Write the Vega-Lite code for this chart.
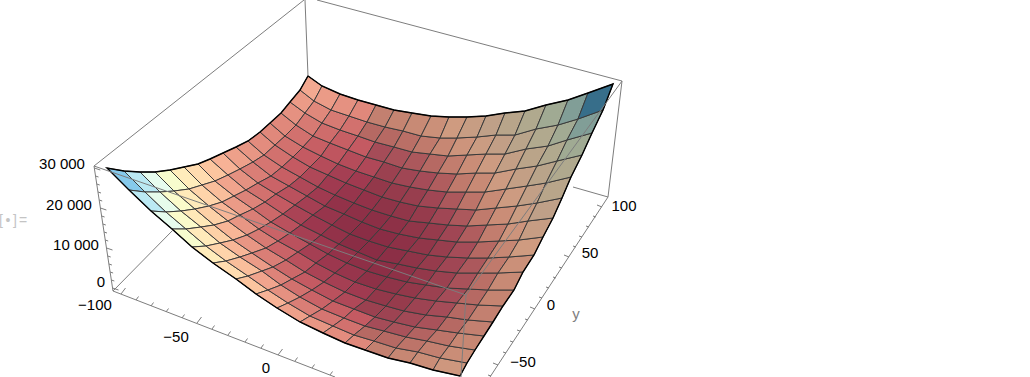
{"$schema":"https://vega.github.io/schema/vega-lite/v6.json","width":1030,"height":377,"padding":0,"autosize":"none","background":"white","config":{"view":{"stroke":null}},
"layer":[
{"data":{"values":[
{"k":0,"s":0.88,"x":[107,129,145,124],"y":[168,190,192,171]},{"k":1,"s":0.77,"x":[129,151,166,145],"y":[190,211,212,192]},{"k":2,"s":0.67,"x":[151,172,186,166],"y":[211,229,229,212]},{"k":3,"s":0.57,"x":[172,192,206,186],"y":[229,247,246,229]},{"k":4,"s":0.49,"x":[192,213,226,206],"y":[247,263,261,246]},{"k":5,"s":0.42,"x":[213,236,248,226],"y":[263,279,276,261]},{"k":6,"s":0.36,"x":[236,256,268,248],"y":[279,294,290,276]},{"k":7,"s":0.31,"x":[256,277,288,268],"y":[294,308,303,290]},{"k":8,"s":0.27,"x":[277,300,310,288],"y":[308,322,316,303]},{"k":9,"s":0.25,"x":[300,323,333,310],"y":[322,333,326,316]},{"k":10,"s":0.23,"x":[323,345,354,333],"y":[333,343,335,326]},{"k":11,"s":0.22,"x":[345,365,374,354],"y":[343,350,341,335]},{"k":12,"s":-0.22,"x":[365,388,396,374],"y":[350,358,348,341]},{"k":13,"s":-0.24,"x":[388,410,418,396],"y":[358,363,352,348]},{"k":14,"s":-0.26,"x":[410,433,440,418],"y":[363,370,358,352]},{"k":15,"s":-0.29,"x":[433,460,467,440],"y":[370,376,363,358]},
{"k":16,"s":0.77,"x":[124,145,160,140],"y":[171,192,192,172]},{"k":17,"s":0.66,"x":[145,166,181,160],"y":[192,212,211,192]},{"k":18,"s":0.56,"x":[166,186,201,181],"y":[212,229,227,211]},{"k":19,"s":0.48,"x":[186,206,220,201],"y":[229,246,243,227]},{"k":20,"s":0.40,"x":[206,226,240,220],"y":[246,261,257,243]},{"k":21,"s":0.34,"x":[226,248,262,240],"y":[261,276,271,257]},{"k":22,"s":0.28,"x":[248,268,281,262],"y":[276,290,285,271]},{"k":23,"s":0.24,"x":[268,288,300,281],"y":[290,303,297,285]},{"k":24,"s":0.20,"x":[288,310,322,300],"y":[303,316,309,297]},{"k":25,"s":0.18,"x":[310,333,344,322],"y":[316,326,318,309]},{"k":26,"s":0.17,"x":[333,354,365,344],"y":[326,335,326,318]},{"k":27,"s":-0.17,"x":[354,374,384,365],"y":[335,341,331,326]},{"k":28,"s":-0.17,"x":[374,396,406,384],"y":[341,348,337,331]},{"k":29,"s":-0.19,"x":[396,418,427,406],"y":[348,352,341,337]},{"k":30,"s":-0.22,"x":[418,440,449,427],"y":[352,358,346,341]},{"k":31,"s":-0.26,"x":[440,467,475,449],"y":[358,363,350,346]},
{"k":32,"s":0.67,"x":[140,160,174,155],"y":[172,192,191,172]},{"k":33,"s":0.56,"x":[160,181,195,174],"y":[192,211,209,191]},{"k":34,"s":0.47,"x":[181,201,214,195],"y":[211,227,225,209]},{"k":35,"s":0.39,"x":[201,220,233,214],"y":[227,243,240,225]},{"k":36,"s":0.32,"x":[220,240,252,233],"y":[243,257,253,240]},{"k":37,"s":0.26,"x":[240,262,273,252],"y":[257,271,267,253]},{"k":38,"s":0.21,"x":[262,281,292,273],"y":[271,285,279,267]},{"k":39,"s":0.17,"x":[281,300,312,292],"y":[285,297,290,279]},{"k":40,"s":0.14,"x":[300,322,333,312],"y":[297,309,301,290]},{"k":41,"s":0.13,"x":[322,344,354,333],"y":[309,318,309,301]},{"k":42,"s":0.12,"x":[344,365,375,354],"y":[318,326,317,309]},{"k":43,"s":-0.12,"x":[365,384,394,375],"y":[326,331,322,317]},{"k":44,"s":-0.13,"x":[384,406,415,394],"y":[331,337,327,322]},{"k":45,"s":-0.16,"x":[406,427,437,415],"y":[337,341,330,327]},{"k":46,"s":-0.19,"x":[427,449,458,437],"y":[341,346,333,330]},{"k":47,"s":-0.24,"x":[449,475,484,458],"y":[346,350,336,333]},
{"k":48,"s":0.57,"x":[155,174,189,170],"y":[172,191,189,170]},{"k":49,"s":0.48,"x":[174,195,209,189],"y":[191,209,206,189]},{"k":50,"s":0.39,"x":[195,214,228,209],"y":[209,225,221,206]},{"k":51,"s":0.32,"x":[214,233,247,228],"y":[225,240,235,221]},{"k":52,"s":0.25,"x":[233,252,266,247],"y":[240,253,248,235]},{"k":53,"s":0.20,"x":[252,273,286,266],"y":[253,267,260,248]},{"k":54,"s":0.15,"x":[273,292,305,286],"y":[267,279,272,260]},{"k":55,"s":0.12,"x":[292,312,324,305],"y":[279,290,282,272]},{"k":56,"s":0.10,"x":[312,333,345,324],"y":[290,301,292,282]},{"k":57,"s":0.08,"x":[333,354,366,345],"y":[301,309,300,292]},{"k":58,"s":-0.08,"x":[354,375,386,366],"y":[309,317,306,300]},{"k":59,"s":-0.09,"x":[375,394,404,386],"y":[317,322,311,306]},{"k":60,"s":-0.11,"x":[394,415,426,404],"y":[322,327,315,311]},{"k":61,"s":-0.13,"x":[415,437,447,426],"y":[327,330,317,315]},{"k":62,"s":-0.17,"x":[437,458,468,447],"y":[330,333,320,317]},{"k":63,"s":-0.22,"x":[458,484,493,468],"y":[333,336,322,320]},
{"k":64,"s":0.49,"x":[170,189,202,184],"y":[170,189,185,167]},{"k":65,"s":0.40,"x":[189,209,222,202],"y":[189,206,202,185]},{"k":66,"s":0.32,"x":[209,228,240,222],"y":[206,221,215,202]},{"k":67,"s":0.25,"x":[228,247,259,240],"y":[221,235,229,215]},{"k":68,"s":0.19,"x":[247,266,278,259],"y":[235,248,241,229]},{"k":69,"s":0.14,"x":[266,286,298,278],"y":[248,260,252,241]},{"k":70,"s":0.10,"x":[286,305,316,298],"y":[260,272,263,252]},{"k":71,"s":0.07,"x":[305,324,335,316],"y":[272,282,273,263]},{"k":72,"s":0.06,"x":[324,345,355,335],"y":[282,292,282,273]},{"k":73,"s":0.05,"x":[345,366,376,355],"y":[292,300,289,282]},{"k":74,"s":-0.05,"x":[366,386,396,376],"y":[300,306,294,289]},{"k":75,"s":-0.06,"x":[386,404,415,396],"y":[306,311,298,294]},{"k":76,"s":-0.09,"x":[404,426,436,415],"y":[311,315,301,298]},{"k":77,"s":-0.12,"x":[426,447,457,436],"y":[315,317,303,301]},{"k":78,"s":-0.17,"x":[447,468,478,457],"y":[317,320,305,303]},{"k":79,"s":-0.22,"x":[468,493,503,478],"y":[320,322,306,305]},
{"k":80,"s":0.42,"x":[184,202,215,198],"y":[167,185,181,164]},{"k":81,"s":0.34,"x":[202,222,234,215],"y":[185,202,196,181]},{"k":82,"s":0.26,"x":[222,240,253,234],"y":[202,215,209,196]},{"k":83,"s":0.20,"x":[240,259,271,253],"y":[215,229,222,209]},{"k":84,"s":0.14,"x":[259,278,290,271],"y":[229,241,233,222]},{"k":85,"s":0.10,"x":[278,298,310,290],"y":[241,252,244,233]},{"k":86,"s":0.06,"x":[298,316,328,310],"y":[252,263,254,244]},{"k":87,"s":0.04,"x":[316,335,347,328],"y":[263,273,263,254]},{"k":88,"s":0.03,"x":[335,355,367,347],"y":[273,282,271,263]},{"k":89,"s":-0.02,"x":[355,376,387,367],"y":[282,289,277,271]},{"k":90,"s":-0.03,"x":[376,396,407,387],"y":[289,294,282,277]},{"k":91,"s":-0.05,"x":[396,415,426,407],"y":[294,298,285,282]},{"k":92,"s":-0.08,"x":[415,436,447,426],"y":[298,301,288,285]},{"k":93,"s":-0.12,"x":[436,457,468,447],"y":[301,303,289,288]},{"k":94,"s":-0.17,"x":[457,478,488,468],"y":[303,305,290,289]},{"k":95,"s":-0.23,"x":[478,503,514,488],"y":[305,306,290,290]},
{"k":96,"s":0.36,"x":[198,215,228,210],"y":[164,181,175,159]},{"k":97,"s":0.28,"x":[215,234,246,228],"y":[181,196,190,175]},{"k":98,"s":0.21,"x":[234,253,265,246],"y":[196,209,202,190]},{"k":99,"s":0.15,"x":[253,271,283,265],"y":[209,222,214,202]},{"k":100,"s":0.10,"x":[271,290,301,283],"y":[222,233,225,214]},{"k":101,"s":0.06,"x":[290,310,321,301],"y":[233,244,235,225]},{"k":102,"s":0.04,"x":[310,328,339,321],"y":[244,254,244,235]},{"k":103,"s":0.02,"x":[328,347,358,339],"y":[254,263,252,244]},{"k":104,"s":0.01,"x":[347,367,377,358],"y":[263,271,260,252]},{"k":105,"s":-0.01,"x":[367,387,398,377],"y":[271,277,264,260]},{"k":106,"s":-0.02,"x":[387,407,417,398],"y":[277,282,268,264]},{"k":107,"s":-0.05,"x":[407,426,436,417],"y":[282,285,271,268]},{"k":108,"s":-0.08,"x":[426,447,457,436],"y":[285,288,273,271]},{"k":109,"s":-0.13,"x":[447,468,478,457],"y":[288,289,273,273]},{"k":110,"s":-0.18,"x":[468,488,498,478],"y":[289,290,273,273]},{"k":111,"s":-0.25,"x":[488,514,523,498],"y":[290,290,272,273]},
{"k":112,"s":0.31,"x":[210,228,240,223],"y":[159,175,169,153]},{"k":113,"s":0.24,"x":[228,246,258,240],"y":[175,190,183,169]},{"k":114,"s":0.17,"x":[246,265,276,258],"y":[190,202,194,183]},{"k":115,"s":0.12,"x":[265,283,295,276],"y":[202,214,205,194]},{"k":116,"s":0.07,"x":[283,301,313,295],"y":[214,225,215,205]},{"k":117,"s":0.04,"x":[301,321,332,313],"y":[225,235,225,215]},{"k":118,"s":0.02,"x":[321,339,350,332],"y":[235,244,234,225]},{"k":119,"s":0,"x":[339,358,369,350],"y":[244,252,241,234]},{"k":120,"s":0,"x":[358,377,388,369],"y":[252,260,247,241]},{"k":121,"s":-0.01,"x":[377,398,408,388],"y":[260,264,251,247]},{"k":122,"s":-0.03,"x":[398,417,428,408],"y":[264,268,255,251]},{"k":123,"s":-0.06,"x":[417,436,447,428],"y":[268,271,257,255]},{"k":124,"s":-0.10,"x":[436,457,468,447],"y":[271,273,258,257]},{"k":125,"s":-0.14,"x":[457,478,488,468],"y":[273,273,258,258]},{"k":126,"s":-0.20,"x":[478,498,509,488],"y":[273,273,257,258]},{"k":127,"s":-0.27,"x":[498,523,534,509],"y":[273,272,255,257]},
{"k":128,"s":0.27,"x":[223,240,253,236],"y":[153,169,162,147]},{"k":129,"s":0.20,"x":[240,258,271,253],"y":[169,183,176,162]},{"k":130,"s":0.14,"x":[258,276,289,271],"y":[183,194,186,176]},{"k":131,"s":0.10,"x":[276,295,307,289],"y":[194,205,196,186]},{"k":132,"s":0.06,"x":[295,313,325,307],"y":[205,215,206,196]},{"k":133,"s":0.03,"x":[313,332,344,325],"y":[215,225,214,206]},{"k":134,"s":0.01,"x":[332,350,362,344],"y":[225,234,222,214]},{"k":135,"s":0,"x":[350,369,380,362],"y":[234,241,229,222]},{"k":136,"s":0,"x":[369,388,399,380],"y":[241,247,234,229]},{"k":137,"s":-0.02,"x":[388,408,419,399],"y":[247,251,238,234]},{"k":138,"s":-0.04,"x":[408,428,438,419],"y":[251,255,240,238]},{"k":139,"s":-0.07,"x":[428,447,457,438],"y":[255,257,242,240]},{"k":140,"s":-0.12,"x":[447,468,478,457],"y":[257,258,242,242]},{"k":141,"s":-0.17,"x":[468,488,499,478],"y":[258,258,241,242]},{"k":142,"s":-0.24,"x":[488,509,519,499],"y":[258,257,240,241]},{"k":143,"s":-0.31,"x":[509,534,543,519],"y":[257,255,237,240]},
{"k":144,"s":0.25,"x":[236,253,264,248],"y":[147,162,155,141]},{"k":145,"s":0.18,"x":[253,271,282,264],"y":[162,176,167,155]},{"k":146,"s":0.13,"x":[271,289,300,282],"y":[176,186,177,167]},{"k":147,"s":0.08,"x":[289,307,318,300],"y":[186,196,187,177]},{"k":148,"s":0.05,"x":[307,325,335,318],"y":[196,206,195,187]},{"k":149,"s":0.02,"x":[325,344,354,335],"y":[206,214,203,195]},{"k":150,"s":0.01,"x":[344,362,372,354],"y":[214,222,210,203]},{"k":151,"s":-0.01,"x":[362,380,391,372],"y":[222,229,216,210]},{"k":152,"s":-0.02,"x":[380,399,409,391],"y":[229,234,221,216]},{"k":153,"s":-0.04,"x":[399,419,429,409],"y":[234,238,223,221]},{"k":154,"s":-0.06,"x":[419,438,448,429],"y":[238,240,225,223]},{"k":155,"s":-0.10,"x":[438,457,467,448],"y":[240,242,226,225]},{"k":156,"s":-0.15,"x":[457,478,487,467],"y":[242,242,225,226]},{"k":157,"s":-0.21,"x":[478,499,508,487],"y":[242,241,224,225]},{"k":158,"s":-0.28,"x":[499,519,528,508],"y":[241,240,221,224]},{"k":159,"s":-0.36,"x":[519,543,553,528],"y":[240,237,218,221]},
{"k":160,"s":0.23,"x":[248,264,275,260],"y":[141,155,145,132]},{"k":161,"s":0.17,"x":[264,282,293,275],"y":[155,167,157,145]},{"k":162,"s":0.12,"x":[282,300,310,293],"y":[167,177,167,157]},{"k":163,"s":0.08,"x":[300,318,328,310],"y":[177,187,175,167]},{"k":164,"s":0.05,"x":[318,335,346,328],"y":[187,195,183,175]},{"k":165,"s":0.03,"x":[335,354,364,346],"y":[195,203,190,183]},{"k":166,"s":0.02,"x":[354,372,382,364],"y":[203,210,197,190]},{"k":167,"s":-0.03,"x":[372,391,400,382],"y":[210,216,202,197]},{"k":168,"s":-0.04,"x":[391,409,418,400],"y":[216,221,206,202]},{"k":169,"s":-0.06,"x":[409,429,438,418],"y":[221,223,208,206]},{"k":170,"s":-0.10,"x":[429,448,457,438],"y":[223,225,209,208]},{"k":171,"s":-0.14,"x":[448,467,476,457],"y":[225,226,210,209]},{"k":172,"s":-0.20,"x":[467,487,496,476],"y":[226,225,208,210]},{"k":173,"s":-0.26,"x":[487,508,517,496],"y":[225,224,206,208]},{"k":174,"s":-0.34,"x":[508,528,537,517],"y":[224,221,203,206]},{"k":175,"s":-0.42,"x":[528,553,562,537],"y":[221,218,198,203]},
{"k":176,"s":0.22,"x":[260,275,285,270],"y":[132,145,136,123]},{"k":177,"s":0.17,"x":[275,293,303,285],"y":[145,157,147,136]},{"k":178,"s":0.12,"x":[293,310,321,303],"y":[157,167,156,147]},{"k":179,"s":0.09,"x":[310,328,338,321],"y":[167,175,164,156]},{"k":180,"s":0.06,"x":[328,346,356,338],"y":[175,183,171,164]},{"k":181,"s":0.05,"x":[346,364,374,356],"y":[183,190,177,171]},{"k":182,"s":-0.05,"x":[364,382,392,374],"y":[190,197,183,177]},{"k":183,"s":-0.06,"x":[382,400,410,392],"y":[197,202,187,183]},{"k":184,"s":-0.07,"x":[400,418,428,410],"y":[202,206,190,187]},{"k":185,"s":-0.10,"x":[418,438,447,428],"y":[206,208,192,190]},{"k":186,"s":-0.14,"x":[438,457,466,447],"y":[208,209,192,192]},{"k":187,"s":-0.19,"x":[457,476,485,466],"y":[209,210,192,192]},{"k":188,"s":-0.25,"x":[476,496,506,485],"y":[210,208,189,192]},{"k":189,"s":-0.32,"x":[496,517,527,506],"y":[208,206,186,189]},{"k":190,"s":-0.40,"x":[517,537,546,527],"y":[206,203,183,186]},{"k":191,"s":-0.49,"x":[537,562,571,546],"y":[203,198,177,183]},
{"k":192,"s":0.22,"x":[270,285,296,281],"y":[123,136,125,113]},{"k":193,"s":0.17,"x":[285,303,313,296],"y":[136,147,136,125]},{"k":194,"s":0.13,"x":[303,321,330,313],"y":[147,156,143,136]},{"k":195,"s":0.11,"x":[321,338,348,330],"y":[156,164,150,143]},{"k":196,"s":0.09,"x":[338,356,366,348],"y":[164,171,157,150]},{"k":197,"s":0.08,"x":[356,374,384,366],"y":[171,177,162,157]},{"k":198,"s":-0.08,"x":[374,392,402,384],"y":[177,183,168,162]},{"k":199,"s":-0.10,"x":[392,410,420,402],"y":[183,187,171,168]},{"k":200,"s":-0.12,"x":[410,428,438,420],"y":[187,190,173,171]},{"k":201,"s":-0.15,"x":[428,447,457,438],"y":[190,192,174,173]},{"k":202,"s":-0.20,"x":[447,466,476,457],"y":[192,192,173,174]},{"k":203,"s":-0.25,"x":[466,485,495,476],"y":[192,192,173,173]},{"k":204,"s":-0.32,"x":[485,506,516,495],"y":[192,189,169,173]},{"k":205,"s":-0.39,"x":[506,527,537,516],"y":[189,186,166,169]},{"k":206,"s":-0.48,"x":[527,546,557,537],"y":[186,183,161,166]},{"k":207,"s":-0.57,"x":[546,571,582,557],"y":[183,177,155,161]},
{"k":208,"s":0.24,"x":[281,296,305,290],"y":[113,125,113,102]},{"k":209,"s":0.19,"x":[296,313,322,305],"y":[125,136,123,113]},{"k":210,"s":0.16,"x":[313,330,340,322],"y":[136,143,130,123]},{"k":211,"s":0.13,"x":[330,348,358,340],"y":[143,150,136,130]},{"k":212,"s":0.12,"x":[348,366,375,358],"y":[150,157,142,136]},{"k":213,"s":-0.12,"x":[366,384,394,375],"y":[157,162,147,142]},{"k":214,"s":-0.13,"x":[384,402,412,394],"y":[162,168,152,147]},{"k":215,"s":-0.14,"x":[402,420,430,412],"y":[168,171,154,152]},{"k":216,"s":-0.17,"x":[420,438,448,430],"y":[171,173,156,154]},{"k":217,"s":-0.21,"x":[438,457,467,448],"y":[173,174,155,156]},{"k":218,"s":-0.26,"x":[457,476,486,467],"y":[174,173,154,155]},{"k":219,"s":-0.32,"x":[476,495,505,486],"y":[173,173,154,154]},{"k":220,"s":-0.39,"x":[495,516,526,505],"y":[173,169,149,154]},{"k":221,"s":-0.47,"x":[516,537,548,526],"y":[169,166,146,149]},{"k":222,"s":-0.56,"x":[537,557,567,548],"y":[166,161,140,146]},{"k":223,"s":-0.67,"x":[557,582,592,567],"y":[161,155,133,140]},
{"k":224,"s":0.26,"x":[290,305,314,300],"y":[102,113,101,90]},{"k":225,"s":0.22,"x":[305,322,331,314],"y":[113,123,110,101]},{"k":226,"s":0.19,"x":[322,340,349,331],"y":[123,130,116,110]},{"k":227,"s":0.17,"x":[340,358,367,349],"y":[130,136,122,116]},{"k":228,"s":-0.17,"x":[358,375,385,367],"y":[136,142,127,122]},{"k":229,"s":-0.17,"x":[375,394,403,385],"y":[142,147,131,127]},{"k":230,"s":-0.18,"x":[394,412,421,403],"y":[147,152,136,131]},{"k":231,"s":-0.20,"x":[412,430,440,421],"y":[152,154,138,136]},{"k":232,"s":-0.24,"x":[430,448,457,440],"y":[154,156,138,138]},{"k":233,"s":-0.28,"x":[448,467,477,457],"y":[156,155,137,138]},{"k":234,"s":-0.34,"x":[467,486,496,477],"y":[155,154,135,137]},{"k":235,"s":-0.40,"x":[486,505,515,496],"y":[154,154,135,135]},{"k":236,"s":-0.48,"x":[505,526,536,515],"y":[154,149,129,135]},{"k":237,"s":-0.56,"x":[526,548,558,536],"y":[149,146,125,129]},{"k":238,"s":-0.66,"x":[548,567,578,558],"y":[146,140,119,125]},{"k":239,"s":-0.77,"x":[567,592,603,578],"y":[140,133,110,119]},
{"k":240,"s":0.29,"x":[300,314,322,308],"y":[90,101,86,76]},{"k":241,"s":0.26,"x":[314,331,340,322],"y":[101,110,94,86]},{"k":242,"s":0.24,"x":[331,349,358,340],"y":[110,116,100,94]},{"k":243,"s":0.22,"x":[349,367,376,358],"y":[116,122,105,100]},{"k":244,"s":-0.22,"x":[367,385,394,376],"y":[122,127,110,105]},{"k":245,"s":-0.23,"x":[385,403,412,394],"y":[127,131,113,110]},{"k":246,"s":-0.25,"x":[403,421,431,412],"y":[131,136,116,113]},{"k":247,"s":-0.27,"x":[421,440,449,431],"y":[136,138,117,116]},{"k":248,"s":-0.31,"x":[440,457,467,449],"y":[138,138,117,117]},{"k":249,"s":-0.36,"x":[457,477,486,467],"y":[138,137,116,117]},{"k":250,"s":-0.42,"x":[477,496,505,486],"y":[137,135,113,116]},{"k":251,"s":-0.49,"x":[496,515,525,505],"y":[135,135,111,113]},{"k":252,"s":-0.57,"x":[515,536,546,525],"y":[135,129,105,111]},{"k":253,"s":-0.67,"x":[536,558,568,546],"y":[129,125,100,105]},{"k":254,"s":-0.77,"x":[558,578,588,568],"y":[125,119,93,100]},{"k":255,"s":-0.88,"x":[578,603,613,588],"y":[119,110,84,93]}
]},"transform":[{"flatten":["x","y"]}],
"mark":{"type":"line","interpolate":"linear-closed","stroke":"#3a3a3a","strokeWidth":1},
"encoding":{"x":{"field":"x","type":"quantitative","scale":{"domain":[0,1030],"nice":false,"zero":false},"axis":null},"y":{"field":"y","type":"quantitative","scale":{"domain":[377,0],"nice":false,"zero":false},"axis":null},"detail":{"field":"k"},"order":{"value":null},
"fill":{"field":"s","type":"quantitative","legend":null,"scale":{"domain":[-1,-0.9,-0.78,-0.68,-0.55,-0.42,-0.3,-0.2,-0.12,-0.05,0,0.05,0.12,0.2,0.3,0.42,0.55,0.68,0.78,0.9,1],"range":["#1c4f7c","#2f6488","#7f9c98","#9faa94","#b3a98e","#bfa088","#d09a80","#c07a6c","#a54c58","#93384a","#8a2d45","#a03a50","#c45a62","#da7e76","#f6ae94","#ffdcb0","#fffac8","#e8fbf0","#b8e6f5","#7cc4ea","#3f8fcf"]}}}},
{"data":{"values":[{"x":[107,129,151,172,192,213,236,256,277,300,323,345,365,388,410,433,460,467,475,484,493,503,514,523,534,543,553,562,571,582,592,603,613,588,568,546,525,505,486,467,449,431,412,394,376,358,340,322,308,300,290,281,270,260,248,236,223,210,198,184,170,155,140,124],"y":[168,190,211,229,247,263,279,294,308,322,333,343,350,358,363,370,376,363,350,336,322,306,290,272,255,237,218,198,177,155,133,110,84,93,100,105,111,113,116,117,117,116,113,110,105,100,94,86,76,90,102,113,123,132,141,147,153,159,164,167,170,172,172,171]}]},"transform":[{"flatten":["x","y"]}],
"mark":{"type":"line","interpolate":"linear-closed","stroke":"#000000","strokeWidth":1.4},
"encoding":{"x":{"field":"x","type":"quantitative"},"y":{"field":"y","type":"quantitative"},"order":{"value":null}}},
{"data":{"values":[{"x":94,"y":166,"x2":304,"y2":0},{"x":305,"y":0,"x2":308,"y2":76},{"x":94,"y":166,"x2":466,"y2":295},{"x":466,"y":295,"x2":622,"y2":81},{"x":622,"y":81,"x2":317,"y2":0},{"x":622,"y":81,"x2":608,"y2":197},{"x":466,"y":295,"x2":461,"y2":377},{"x":94,"y":166,"x2":113,"y2":291},{"x":113,"y":291,"x2":335,"y2":377},{"x":608,"y":197,"x2":490,"y2":377},{"x":113,"y":291,"x2":173,"y2":230},{"x":608,"y":197,"x2":573,"y2":187},
{"x":112.5,"y":288,"x2":118.5,"y2":290},{"x":111.3,"y":280,"x2":114.3,"y2":281},{"x":110.1,"y":272,"x2":113.1,"y2":273},{"x":108.9,"y":264,"x2":111.9,"y2":265},{"x":107.7,"y":256,"x2":110.7,"y2":257},{"x":106.5,"y":248,"x2":112.5,"y2":250},{"x":105.2,"y":240,"x2":108.2,"y2":241},{"x":104,"y":232,"x2":107,"y2":233},{"x":102.8,"y":224,"x2":105.8,"y2":225},{"x":101.6,"y":216,"x2":104.6,"y2":217},{"x":100.4,"y":208,"x2":106.4,"y2":210},{"x":99.2,"y":200,"x2":102.2,"y2":201},{"x":98,"y":192,"x2":101,"y2":193},{"x":96.7,"y":184,"x2":99.7,"y2":185},{"x":95.5,"y":176,"x2":98.5,"y2":177},{"x":94.3,"y":168,"x2":100.3,"y2":170},
{"x":121,"y":294,"x2":125.5,"y2":288},{"x":136,"y":300,"x2":138.5,"y2":296.5},{"x":151,"y":306,"x2":153.5,"y2":302.5},{"x":166,"y":312,"x2":168.5,"y2":308.5},{"x":182,"y":318,"x2":184.5,"y2":314.5},{"x":197,"y":323,"x2":201.5,"y2":317},{"x":212,"y":329,"x2":214.5,"y2":325.5},{"x":228,"y":335,"x2":230.5,"y2":331.5},{"x":245,"y":342,"x2":247.5,"y2":338.5},{"x":261,"y":348,"x2":263.5,"y2":344.5},{"x":278,"y":355,"x2":282.5,"y2":349},{"x":295,"y":361,"x2":297.5,"y2":357.5},{"x":312,"y":368,"x2":314.5,"y2":364.5},{"x":330,"y":375,"x2":332.5,"y2":371.5},
{"x":602,"y":207,"x2":597,"y2":205},{"x":596,"y":217,"x2":593,"y2":216},{"x":589,"y":227,"x2":586,"y2":226},{"x":582,"y":237,"x2":579,"y2":236},{"x":576,"y":247,"x2":573,"y2":246},{"x":569,"y":257,"x2":564,"y2":255},{"x":562,"y":268,"x2":559,"y2":267},{"x":556,"y":278,"x2":553,"y2":277},{"x":549,"y":288,"x2":546,"y2":287},{"x":542,"y":298,"x2":539,"y2":297},{"x":535,"y":309,"x2":530,"y2":307},{"x":528,"y":320,"x2":525,"y2":319},{"x":520,"y":331,"x2":517,"y2":330},{"x":513,"y":342,"x2":510,"y2":341},{"x":506,"y":353,"x2":503,"y2":352},{"x":498,"y":365,"x2":493,"y2":363},{"x":491,"y":376,"x2":488,"y2":375}
]},"mark":{"type":"rule","stroke":"#7d7d7d","strokeWidth":1},
"encoding":{"x":{"field":"x","type":"quantitative"},"y":{"field":"y","type":"quantitative"},"x2":{"field":"x2"},"y2":{"field":"y2"}}},
{"data":{"values":[{"x":62,"y":164,"t":"30 000"},{"x":69,"y":205,"t":"20 000"},{"x":76,"y":245,"t":"10 000"},{"x":101,"y":282,"t":"0"},{"x":95,"y":305,"t":"−100"},{"x":176,"y":337,"t":"−50"},{"x":266,"y":368,"t":"0"},{"x":624,"y":206,"t":"100"},{"x":590,"y":253,"t":"50"},{"x":551,"y":305,"t":"0"},{"x":523,"y":362,"t":"−50"}]},
"mark":{"type":"text","font":"Liberation Sans","fontSize":15,"color":"#000000","baseline":"middle","align":"center"},
"encoding":{"x":{"field":"x","type":"quantitative"},"y":{"field":"y","type":"quantitative"},"text":{"field":"t"}}},
{"data":{"values":[{"x":576,"y":314,"t":"y"}]},"mark":{"type":"text","font":"Liberation Sans","fontSize":15,"color":"#808080","baseline":"middle","align":"center"},
"encoding":{"x":{"field":"x","type":"quantitative"},"y":{"field":"y","type":"quantitative"},"text":{"field":"t"}}},
{"data":{"values":[{"x":1,"y":221,"t":"["},{"x":8,"y":221,"t":"•"},{"x":15,"y":221,"t":"]"},{"x":23,"y":221,"t":"="}]},"mark":{"type":"text","font":"Liberation Sans","fontSize":14,"color":"#c4c4c4","baseline":"middle","align":"center"},
"encoding":{"x":{"field":"x","type":"quantitative"},"y":{"field":"y","type":"quantitative"},"text":{"field":"t"}}}
]}
